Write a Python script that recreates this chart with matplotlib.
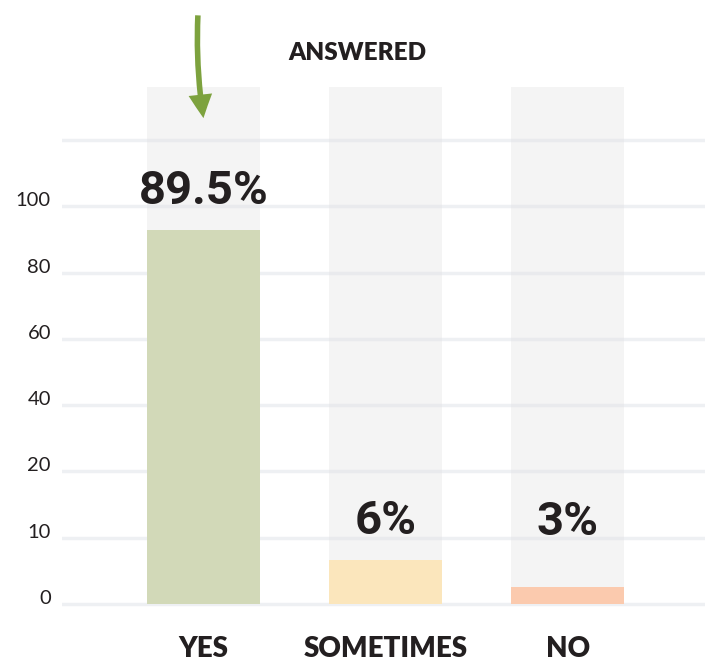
"""Bar chart: ANSWERED (yes / sometimes / no)."""
import numpy as np
import matplotlib
matplotlib.use("Agg")
import matplotlib.pyplot as plt

# data
categories = ["YES", "SOMETIMES", "NO"]
bar_heights = [92.7, 6.6, 2.6]
value_labels = ["89.5%", "6%", "3%"]
y_ticks = [0, 10, 20, 40, 60, 80, 100, 120]
y_tick_labels = ["0", "10", "20", "40", "60", "80", "100", ""]
bar_colors = ["#d2d9b8", "#fbe6bc", "#fbcaae"]

TEXT = "#231f20"
COLUMN_BG = "#f4f4f4"
GRID = "#dfe2e8"
ARROW = "#7da23e"

# uneven axis: every tick is one equal step apart
knots_v = np.array([y_ticks[0] - 10] + y_ticks + [y_ticks[-1] + 40], dtype=float)
knots_p = np.arange(len(knots_v), dtype=float) - 1
knots_p[-1] = knots_p[-2] + 2


def forward(v):
    return np.interp(v, knots_v, knots_p)


def inverse(p):
    return np.interp(p, knots_p, knots_v)


fig = plt.figure(figsize=(7.08, 6.63), dpi=100)
ax = fig.add_axes([0.0876, 0.0840, 0.9082, 0.7848])
ax.set_yscale("function", functions=(forward, inverse))
y_top = 136
ax.set_ylim(-0.5, y_top)
ax.set_xlim(-0.776, 2.752)

x = np.arange(len(categories))
width = 0.62

# light grey full-height columns
ax.bar(x, [y_top] * len(x), width=width, color=COLUMN_BG, zorder=1)
for t in y_ticks:
    ax.axhline(t, color=GRID, alpha=0.5, lw=2.5, zorder=2)
ax.bar(x, bar_heights, width=width, color=bar_colors, zorder=3)

LABEL_FLOOR = 6.5
for xi, h, lab in zip(x, bar_heights, value_labels):
    ax.annotate(lab, xy=(xi, max(h, LABEL_FLOOR)), xytext=(0, 19),
                textcoords="offset points", ha="center", va="baseline",
                fontsize=34, fontweight="bold", family="Roboto",
                color=TEXT, zorder=4)

ax.set_yticks(y_ticks)
ax.set_yticklabels(y_tick_labels, fontsize=14.5, family="Lato", color=TEXT)
for lab in ax.get_yticklabels():
    lab.set_verticalalignment("baseline")
ax.set_xticks(x)
ax.set_xticklabels(categories, fontsize=20, fontweight=800, family="Lato",
                   color=TEXT)
ax.tick_params(axis="y", length=0, pad=8)
ax.tick_params(axis="x", length=0, pad=21)
for s in ax.spines.values():
    s.set_visible(False)

fig.text(357 / 708, 1 - 60 / 663, "ANSWERED", ha="center", va="baseline",
         fontsize=17.5, fontweight=800, family="Lato", color=TEXT)

# green arrow pointing down at the YES column
ax.annotate("", xy=(0, 126.6), xytext=(-4, 74), textcoords="offset points",
            annotation_clip=False,
            arrowprops=dict(arrowstyle="simple,head_length=0.85,head_width=0.85,tail_width=0.2",
                            mutation_scale=20, connectionstyle="arc3,rad=0.05",
                            shrinkA=0, shrinkB=0, color=ARROW, lw=0))

fig.savefig("out.png", dpi=100)
